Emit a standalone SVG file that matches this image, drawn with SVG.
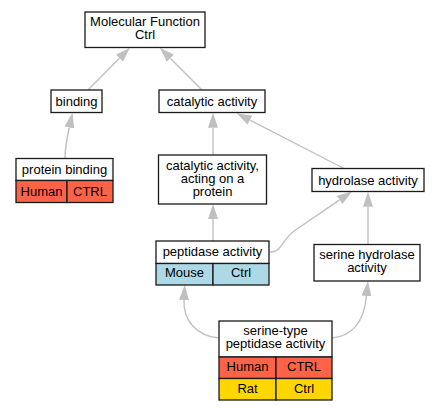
<svg xmlns="http://www.w3.org/2000/svg" width="440" height="411" viewBox="0 0 440 411">
<defs>
<style>
.box{fill:#ffffff;stroke:#1a1a1a;stroke-width:1.3}
.red{fill:#ff6347;stroke:#1a1a1a;stroke-width:1.3}
.blue{fill:#add8e6;stroke:#1a1a1a;stroke-width:1.3}
.gold{fill:#ffd700;stroke:#1a1a1a;stroke-width:1.3}
text{font-family:"Liberation Sans",Arial,sans-serif;font-size:13px;fill:#000;text-anchor:middle}
.edge{fill:none;stroke:#c0c0c0;stroke-width:1.4}
</style>
<marker id="arr" markerUnits="userSpaceOnUse" markerWidth="16" markerHeight="12" refX="0" refY="5" orient="auto" viewBox="0 0 16 10">
<path d="M0,0 L15,5 L0,10 Z" fill="#c0c0c0"/>
</marker>
</defs>
<rect width="440" height="411" fill="#ffffff"/>
<g id="edges">
<path class="edge" marker-end="url(#arr)" d="M88,90 L119.4,58.3"/>
<path class="edge" marker-end="url(#arr)" d="M202,90 L170.5,58.4"/>
<path class="edge" marker-end="url(#arr)" d="M65,158 C65,150 67,138 69.3,127.5"/>
<path class="edge" marker-end="url(#arr)" d="M213,155 L213,127.7"/>
<path class="edge" marker-end="url(#arr)" d="M345,169 L250,120.2"/>
<path class="edge" marker-end="url(#arr)" d="M213,241 L213,219"/>
<path class="edge" marker-end="url(#arr)" d="M270,252 C283,252 280,240 297,229 L339.6,199.9"/>
<path class="edge" marker-end="url(#arr)" d="M368,244 L368,206.7"/>
<path class="edge" marker-end="url(#arr)" d="M219,338 C196,336 183,320 184,300"/>
<path class="edge" marker-end="url(#arr)" d="M332,338 C352,336 364,322 366.5,296"/>
</g>
<g id="n_mf">
<rect class="box" x="85" y="12" width="120" height="35.5"/>
<text x="145" y="26">Molecular Function</text>
<text x="145" y="39">Ctrl</text>
</g>
<g id="n_binding">
<rect class="box" x="51" y="90" width="51" height="22.5"/>
<text x="76.5" y="106">binding</text>
</g>
<g id="n_catalytic">
<rect class="box" x="159" y="90" width="106" height="22.5"/>
<text x="212" y="106">catalytic activity</text>
</g>
<g id="n_protein_binding">
<rect class="box" x="16" y="158.5" width="97" height="22"/>
<rect class="red" x="16" y="180.5" width="51" height="22"/>
<rect class="red" x="67" y="180.5" width="46" height="22"/>
<text x="64.5" y="173.5">protein binding</text>
<text x="41.5" y="195.5">Human</text>
<text x="90" y="195.5">CTRL</text>
</g>
<g id="n_cat_protein">
<rect class="box" x="158.5" y="155" width="108" height="49"/>
<text x="212.5" y="169.5">catalytic activity,</text>
<text x="212.5" y="182.5">acting on a</text>
<text x="212.5" y="195.5">protein</text>
</g>
<g id="n_hydrolase">
<rect class="box" x="312" y="168.5" width="112" height="23"/>
<text x="368" y="184.5">hydrolase activity</text>
</g>
<g id="n_peptidase">
<rect class="box" x="156" y="241" width="113" height="22.5"/>
<rect class="blue" x="156" y="263.5" width="57" height="21.5"/>
<rect class="blue" x="213" y="263.5" width="56" height="21.5"/>
<text x="212.5" y="256">peptidase activity</text>
<text x="184.5" y="277">Mouse</text>
<text x="241" y="277">Ctrl</text>
</g>
<g id="n_serine_hydrolase">
<rect class="box" x="314" y="244.5" width="106" height="36.5"/>
<text x="367" y="259">serine hydrolase</text>
<text x="367" y="272">activity</text>
</g>
<g id="n_serine_peptidase">
<rect class="box" x="219" y="321" width="113" height="36"/>
<rect class="red" x="219" y="357" width="57" height="21.5"/>
<rect class="red" x="276" y="357" width="56" height="21.5"/>
<rect class="gold" x="219" y="378.5" width="57" height="21.5"/>
<rect class="gold" x="276" y="378.5" width="56" height="21.5"/>
<text x="275.5" y="334.5">serine-type</text>
<text x="275.5" y="348">peptidase activity</text>
<text x="247.5" y="371">Human</text>
<text x="304" y="371">CTRL</text>
<text x="247.5" y="392.5">Rat</text>
<text x="304" y="392.5">Ctrl</text>
</g>
</svg>
